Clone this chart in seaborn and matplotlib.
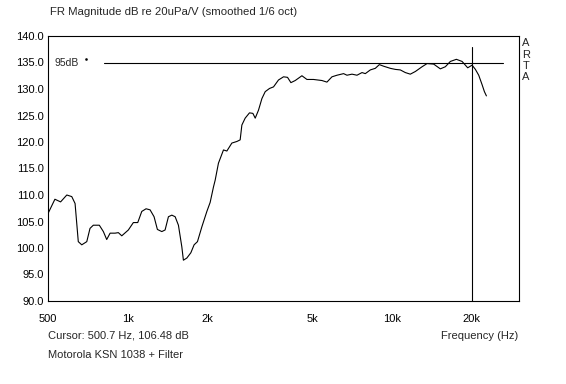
import matplotlib
matplotlib.use("Agg")
import matplotlib.pyplot as plt
import pandas as pd
import seaborn as sns

# response (Hz, dB)
freq_hz = [
    500, 531, 558, 589, 615, 633, 651, 671, 701, 721, 742, 782, 810, 834,
    859, 897, 923, 951, 1007, 1052, 1093, 1132, 1175, 1217, 1260, 1297,
    1348, 1387, 1428, 1471, 1514, 1558, 1605, 1627, 1676, 1736, 1786, 1839,
    1911, 1996, 2054, 2114, 2146, 2208, 2307, 2376, 2482, 2593, 2668, 2708,
    2787, 2894, 2981, 3042, 3130, 3225, 3319, 3445, 3568, 3726, 3893, 4031,
    4152, 4311, 4570, 4774, 5057, 5441, 5683, 5938, 6204, 6571, 6767, 7070,
    7384, 7715, 7940, 8293, 8663, 8972, 9314, 9874, 10313, 10772, 11253,
    11752, 12278, 13020, 13600, 14404, 15265, 15948, 16660, 17559, 18450,
    19378, 20134, 20720, 21330, 21972, 22415, 22810,
]
level_db = [
    106.5, 109.2, 108.7, 110.0, 109.7, 108.4, 101.2, 100.6, 101.2, 103.7,
    104.3, 104.3, 103.1, 101.6, 102.8, 102.8, 102.9, 102.3, 103.4, 104.8,
    104.8, 106.9, 107.4, 107.2, 105.9, 103.5, 103.1, 103.4, 105.9, 106.2,
    105.9, 104.3, 100.2, 97.7, 98.1, 99.1, 100.6, 101.2, 104.0, 106.9,
    108.6, 111.5, 112.8, 116.0, 118.5, 118.3, 119.8, 120.1, 120.4, 123.2,
    124.5, 125.5, 125.4, 124.5, 126.0, 128.2, 129.5, 130.1, 130.4, 131.7,
    132.3, 132.2, 131.2, 131.6, 132.5, 131.8, 131.8, 131.6, 131.3, 132.3,
    132.6, 132.9, 132.6, 132.8, 132.6, 133.1, 132.9, 133.6, 133.9, 134.6,
    134.3, 133.9, 133.7, 133.6, 133.1, 132.8, 133.3, 134.2, 134.8, 134.7,
    133.8, 134.2, 135.2, 135.6, 135.2, 134.0, 134.5, 133.7, 132.6, 130.8,
    129.5, 128.7,
]

x_ticks = [500, 1000, 2000, 5000, 10000, 20000]
x_tick_labels = ["500", "1k", "2k", "5k", "10k", "20k"]
y_ticks = [90, 95, 100, 105, 110, 115, 120, 125, 130, 135, 140]

ref_level = 134.85
ref_span = [815, 26300]
ref_dot = (697, 135.6)
cursor_hz = 20150
cursor_top = 137.9

df = pd.DataFrame({"freq": freq_hz, "db": level_db})

sns.set_style("white")
plt.rcParams["font.family"] = ["Liberation Sans", "DejaVu Sans"]
plt.rcParams["font.size"] = 8

fig = plt.figure(figsize=(5.66, 3.84), dpi=100)
ax = fig.add_axes([48 / 566, 1 - 301 / 384, 471 / 566, 265 / 384])

sns.lineplot(data=df, x="freq", y="db", color="black", linewidth=0.8, ax=ax)
ax.plot(ref_span, [ref_level, ref_level], color="black", linewidth=0.8)
ax.plot([cursor_hz, cursor_hz], [90, cursor_top], color="black", linewidth=0.8)

ax.set_xscale("log")
ax.set_xlim(500, 30300)
ax.set_ylim(90, 140)
ax.set_xticks(x_ticks)
ax.set_xticklabels(x_tick_labels)
ax.minorticks_off()
ax.set_yticks(y_ticks)
ax.set_yticklabels([f"{v:.1f}" for v in y_ticks])
ax.tick_params(axis="both", length=0, labelsize=8, colors="black")
ax.tick_params(axis="y", pad=3)
ax.tick_params(axis="x", pad=9)
ax.set_xlabel("")
ax.set_ylabel("")
for sp in ax.spines.values():
    sp.set_visible(True)
    sp.set_color("black")
    sp.set_linewidth(0.8)

ax.text(0.013, ref_level, "95dB", transform=ax.get_yaxis_transform(),
        ha="left", va="center", fontsize=7.5)
ax.plot([ref_dot[0]], [ref_dot[1]], marker="s", markersize=0.8, color="black")

fig.text(50 / 566, 1 - 12 / 384, "FR Magnitude dB re 20uPa/V (smoothed 1/6 oct)",
         ha="left", va="center", fontsize=8.2)
for i, ch in enumerate("ARTA"):
    fig.text(526 / 566, 1 - (43 + i * 11.5) / 384, ch, ha="center", va="center", fontsize=8)
fig.text(48 / 566, 1 - 336 / 384, "Cursor: 500.7 Hz, 106.48 dB", ha="left", va="center", fontsize=8)
fig.text(518 / 566, 1 - 336 / 384, "Frequency (Hz)", ha="right", va="center", fontsize=8)
fig.text(48 / 566, 1 - 355 / 384, "Motorola KSN 1038 + Filter", ha="left", va="center", fontsize=8)

fig.savefig("out.png", dpi=100, facecolor="white")
